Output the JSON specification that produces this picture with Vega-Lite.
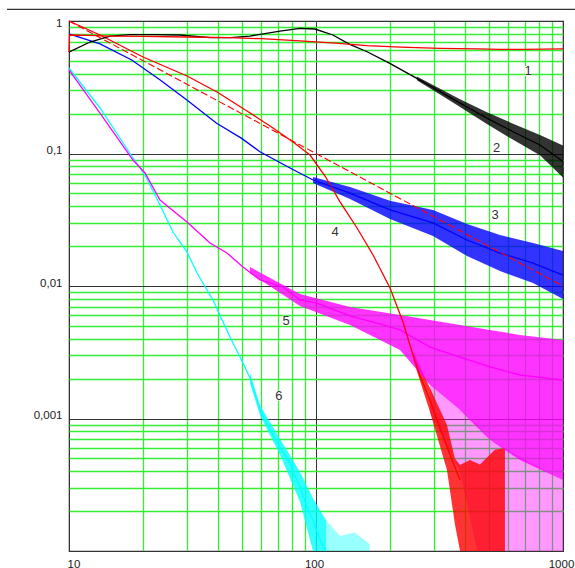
{
  "$schema": "https://vega.github.io/schema/vega-lite/v6.json",
  "width": 494,
  "height": 530,
  "autosize": {"type": "none"},
  "padding": {"left": 69, "top": 21, "right": 12, "bottom": 17},
  "background": "white",
  "config": {"view": {"stroke": "#333333", "strokeWidth": 1.2}},
  "datasets": {
    "lines": [
      {"s": "6", "x": 10, "y": 0.442}, {"s": "6", "x": 13.35, "y": 0.2205}, {"s": "6", "x": 18.16, "y": 0.0925}, {"s": "6", "x": 20.31, "y": 0.0688}, {"s": "6", "x": 23.36, "y": 0.0409}, {"s": "6", "x": 26.37, "y": 0.02556}, {"s": "6", "x": 30.04, "y": 0.01805}, {"s": "6", "x": 32.98, "y": 0.01253}, {"s": "6", "x": 36.21, "y": 0.00933}, {"s": "6", "x": 38.28, "y": 0.00784}, {"s": "6", "x": 44.85, "y": 0.00412}, {"s": "6", "x": 50.64, "y": 0.00262}, {"s": "6", "x": 54.05, "y": 0.00202}, {"s": "6", "x": 59.33, "y": 0.00116}, {"s": "6", "x": 65.13, "y": 0.000819}, {"s": "6", "x": 71.52, "y": 0.000609}, {"s": "6", "x": 78.48, "y": 0.000461}, {"s": "6", "x": 86.12, "y": 0.000304}, {"s": "6", "x": 91.96, "y": 0.000215}, {"s": "6", "x": 97.25, "y": 0.000171}, {"s": "6", "x": 103.8, "y": 0.000121}, {"s": "6", "x": 109.8, "y": 0.0001},
      {"s": "5", "x": 10, "y": 0.427}, {"s": "5", "x": 13.35, "y": 0.2021}, {"s": "5", "x": 18.16, "y": 0.0893}, {"s": "5", "x": 20.31, "y": 0.0713}, {"s": "5", "x": 23.36, "y": 0.0446}, {"s": "5", "x": 30.04, "y": 0.0304}, {"s": "5", "x": 37.23, "y": 0.0211}, {"s": "5", "x": 43.6, "y": 0.01774}, {"s": "5", "x": 50.64, "y": 0.0139}, {"s": "5", "x": 59.33, "y": 0.0111}, {"s": "5", "x": 73.54, "y": 0.00983}, {"s": "5", "x": 86.12, "y": 0.00784}, {"s": "5", "x": 100, "y": 0.00745}, {"s": "5", "x": 137.3, "y": 0.00594}, {"s": "5", "x": 186.8, "y": 0.00508}, {"s": "5", "x": 218.8, "y": 0.00466}, {"s": "5", "x": 289.4, "y": 0.00346}, {"s": "5", "x": 382.8, "y": 0.00291}, {"s": "5", "x": 506.4, "y": 0.00245}, {"s": "5", "x": 669.7, "y": 0.00213}, {"s": "5", "x": 1000, "y": 0.00195},
      {"s": "4", "x": 10, "y": 1}, {"s": "4", "x": 13.35, "y": 0.784}, {"s": "4", "x": 19.94, "y": 0.535}, {"s": "4", "x": 30.04, "y": 0.3846}, {"s": "4", "x": 39.74, "y": 0.2911}, {"s": "4", "x": 52.56, "y": 0.2093}, {"s": "4", "x": 66.97, "y": 0.1558}, {"s": "4", "x": 80.7, "y": 0.1221}, {"s": "4", "x": 94.56, "y": 0.0974}, {"s": "4", "x": 108.8, "y": 0.0676}, {"s": "4", "x": 125.1, "y": 0.0431}, {"s": "4", "x": 146.6, "y": 0.0274}, {"s": "4", "x": 170.2, "y": 0.01714}, {"s": "4", "x": 199.4, "y": 0.00966}, {"s": "4", "x": 225, "y": 0.00535}, {"s": "4", "x": 247, "y": 0.00301}, {"s": "4", "x": 263.7, "y": 0.00209}, {"s": "4", "x": 289.4, "y": 0.00138}, {"s": "4", "x": 309, "y": 0.000974}, {"s": "4", "x": 339.1, "y": 0.000609}, {"s": "4", "x": 382.8, "y": 0.000343},
      {"s": "3", "x": 10, "y": 0.8}, {"s": "3", "x": 13.35, "y": 0.671}, {"s": "3", "x": 17.94, "y": 0.508}, {"s": "3", "x": 23.4, "y": 0.359}, {"s": "3", "x": 30, "y": 0.2533}, {"s": "3", "x": 39.6, "y": 0.169}, {"s": "3", "x": 50, "y": 0.13}, {"s": "3", "x": 59.3, "y": 0.1031}, {"s": "3", "x": 78.5, "y": 0.0777}, {"s": "3", "x": 97.3, "y": 0.0631}, {"s": "3", "x": 137.3, "y": 0.0503}, {"s": "3", "x": 199.4, "y": 0.0375}, {"s": "3", "x": 297.7, "y": 0.0299}, {"s": "3", "x": 408.7, "y": 0.02224}, {"s": "3", "x": 555.9, "y": 0.01774}, {"s": "3", "x": 756, "y": 0.0149}, {"s": "3", "x": 1000, "y": 0.0121},
      {"s": "2", "x": 10, "y": 0.583}, {"s": "2", "x": 12.16, "y": 0.694}, {"s": "2", "x": 14.66, "y": 0.77}, {"s": "2", "x": 17.66, "y": 0.79}, {"s": "2", "x": 22, "y": 0.79}, {"s": "2", "x": 28.14, "y": 0.784}, {"s": "2", "x": 37.2, "y": 0.748}, {"s": "2", "x": 45, "y": 0.75}, {"s": "2", "x": 54, "y": 0.77}, {"s": "2", "x": 71.5, "y": 0.84}, {"s": "2", "x": 86.1, "y": 0.88}, {"s": "2", "x": 99, "y": 0.87}, {"s": "2", "x": 117, "y": 0.784}, {"s": "2", "x": 137, "y": 0.667}, {"s": "2", "x": 161, "y": 0.586}, {"s": "2", "x": 199, "y": 0.479}, {"s": "2", "x": 256, "y": 0.369}, {"s": "2", "x": 318, "y": 0.293}, {"s": "2", "x": 383, "y": 0.24}, {"s": "2", "x": 492, "y": 0.185}, {"s": "2", "x": 628, "y": 0.146}, {"s": "2", "x": 807, "y": 0.116}, {"s": "2", "x": 1000, "y": 0.087},
      {"s": "1", "x": 10, "y": 0.583}, {"s": "1", "x": 10.05, "y": 0.784}, {"s": "1", "x": 12, "y": 0.78}, {"s": "1", "x": 15, "y": 0.77}, {"s": "1", "x": 20, "y": 0.765}, {"s": "1", "x": 30, "y": 0.757}, {"s": "1", "x": 45, "y": 0.748}, {"s": "1", "x": 60, "y": 0.735}, {"s": "1", "x": 86, "y": 0.707}, {"s": "1", "x": 120, "y": 0.68}, {"s": "1", "x": 161, "y": 0.651}, {"s": "1", "x": 220, "y": 0.635}, {"s": "1", "x": 318, "y": 0.622}, {"s": "1", "x": 450, "y": 0.615}, {"s": "1", "x": 556, "y": 0.61}, {"s": "1", "x": 700, "y": 0.61}, {"s": "1", "x": 1000, "y": 0.615}
    ],
    "bands": [
      {"s": "6", "x": 54.05, "lo": 0.00185, "hi": 0.0022}, {"s": "6", "x": 59.33, "lo": 0.00106, "hi": 0.00126}, {"s": "6", "x": 71.52, "lo": 0.00053, "hi": 0.0007}, {"s": "6", "x": 86.12, "lo": 0.000235, "hi": 0.000395}, {"s": "6", "x": 97.25, "lo": 0.0001, "hi": 0.00025}, {"s": "6", "x": 110, "lo": 0.0001, "hi": 0.00017},
      {"s": "4", "x": 247, "lo": 0.00281, "hi": 0.00322}, {"s": "4", "x": 289.4, "lo": 0.00112, "hi": 0.0017}, {"s": "4", "x": 339, "lo": 0.000409, "hi": 0.000893}, {"s": "4", "x": 365, "lo": 0.00016, "hi": 0.0005}, {"s": "4", "x": 383, "lo": 0.0001, "hi": 0.000446}, {"s": "4", "x": 420, "lo": 0.0001, "hi": 0.000486}, {"s": "4", "x": 461, "lo": 0.0001, "hi": 0.00045}, {"s": "4", "x": 530, "lo": 0.0001, "hi": 0.00058}, {"s": "4", "x": 582, "lo": 0.0001, "hi": 0.0006},
      {"s": "5", "x": 54.05, "lo": 0.0125, "hi": 0.0139}, {"s": "5", "x": 86.12, "lo": 0.00706, "hi": 0.0087}, {"s": "5", "x": 137.3, "lo": 0.00508, "hi": 0.00695}, {"s": "5", "x": 218.8, "lo": 0.00329, "hi": 0.00604}, {"s": "5", "x": 289.4, "lo": 0.00179, "hi": 0.00554}, {"s": "5", "x": 382.8, "lo": 0.00116, "hi": 0.00508}, {"s": "5", "x": 506.4, "lo": 0.000688, "hi": 0.00466}, {"s": "5", "x": 669.7, "lo": 0.000486, "hi": 0.00427}, {"s": "5", "x": 1000, "lo": 0.000343, "hi": 0.00391},
      {"s": "3", "x": 97.3, "lo": 0.0599, "hi": 0.0665}, {"s": "3", "x": 137.3, "lo": 0.0453, "hi": 0.0558}, {"s": "3", "x": 199.4, "lo": 0.0321, "hi": 0.0439}, {"s": "3", "x": 297.7, "lo": 0.0238, "hi": 0.0375}, {"s": "3", "x": 408.7, "lo": 0.01685, "hi": 0.0294}, {"s": "3", "x": 555.9, "lo": 0.01298, "hi": 0.02425}, {"s": "3", "x": 756, "lo": 0.01053, "hi": 0.0211}, {"s": "3", "x": 1000, "lo": 0.00797, "hi": 0.01837},
      {"s": "2", "x": 256, "lo": 0.357, "hi": 0.382}, {"s": "2", "x": 318, "lo": 0.279, "hi": 0.308}, {"s": "2", "x": 383, "lo": 0.224, "hi": 0.257}, {"s": "2", "x": 492, "lo": 0.167, "hi": 0.205}, {"s": "2", "x": 628, "lo": 0.127, "hi": 0.168}, {"s": "2", "x": 807, "lo": 0.097, "hi": 0.138}, {"s": "2", "x": 1000, "lo": 0.066, "hi": 0.115}
    ],
    "spikes": [
      {"s": "6", "x": 110, "lo": 0.0001, "hi": 0.00017}, {"s": "6", "x": 125, "lo": 0.0001, "hi": 0.00013}, {"s": "6", "x": 143, "lo": 0.0001, "hi": 0.000138}, {"s": "6", "x": 165, "lo": 0.0001, "hi": 0.000113},
      {"s": "5", "x": 289.4, "lo": 0.0011, "hi": 0.00179}, {"s": "5", "x": 382.8, "lo": 0.0004, "hi": 0.00116}, {"s": "5", "x": 450, "lo": 0.0001, "hi": 0.0009}, {"s": "5", "x": 506.4, "lo": 0.0001, "hi": 0.000688}, {"s": "5", "x": 1000, "lo": 0.0001, "hi": 0.000343}
    ],
    "fit": [{"x": 10, "y": 1}, {"x": 1000, "y": 0.01}],
    "labels": [
      {"t": "1", "x": 721.5, "y": 0.4195}, {"t": "2", "x": 539, "y": 0.1106}, {"t": "3", "x": 530.6, "y": 0.0343},
      {"t": "4", "x": 119.4, "y": 0.0257}, {"t": "5", "x": 75.6, "y": 0.00547}, {"t": "6", "x": 70.8, "y": 0.001486}
    ]
  },
  "layer": [
    {
      "data": {"name": "spikes"},
      "mark": {"type": "area", "opacity": 0.4},
      "encoding": {
        "x": {"field": "x", "type": "quantitative",
          "scale": {"type": "log", "domain": [10, 1000], "nice": false},
          "axis": {
            "title": null,
            "values": [20, 30, 40, 50, 60, 70, 80, 90, 200, 300, 400, 500, 600, 700, 800, 900, 10, 100, 1000],
            "labelExpr": "datum.value == 10 ? '10' : datum.value == 100 ? '100' : datum.value == 1000 ? '1000' : ''",
            "ticks": false, "domain": false, "labelPadding": 7, "labelFont": "Liberation Sans", "labelFontSize": 11.5, "labelColor": "#222222",
            "labelOverlap": false, "labelFlush": false, "labelBound": false, "labelOffset": -2,
            "labelAlign": {"condition": {"test": "datum.value == 10", "value": "left"}, "value": "center"},
            "grid": true,
            "gridColor": {"condition": {"test": "datum.value == 10 || datum.value == 100 || datum.value == 1000", "value": "#333333"}, "value": "#33ee33"},
            "gridWidth": {"condition": {"test": "datum.value == 10 || datum.value == 100 || datum.value == 1000", "value": 1}, "value": 1.3}
          }
        },
        "y": {"field": "lo", "type": "quantitative",
          "scale": {"type": "log", "domain": [0.0001, 1], "nice": false},
          "axis": {
            "title": null,
            "values": [0.0002, 0.0003, 0.0004, 0.0005, 0.0006, 0.0007, 0.0008, 0.0009, 0.002, 0.003, 0.004, 0.005, 0.006, 0.007, 0.008, 0.009, 0.02, 0.03, 0.04, 0.05, 0.06, 0.07, 0.08, 0.09, 0.2, 0.3, 0.4, 0.5, 0.6, 0.7, 0.8, 0.9, 0.0001, 0.001, 0.01, 0.1, 1],
            "labelExpr": "datum.value == 1 ? '1' : datum.value == 0.1 ? '0,1' : datum.value == 0.01 ? '0,01' : datum.value == 0.001 ? '0,001' : ''",
            "ticks": false, "domain": false, "labelPadding": 7, "labelFont": "Liberation Sans", "labelFontSize": 11.5, "labelColor": "#222222",
            "labelOverlap": false, "labelFlush": false, "labelBound": false,
            "labelOffset": {"condition": {"test": "datum.value == 1", "value": 2}, "value": -3},
            "grid": true,
            "gridColor": {"condition": {"test": "datum.value == 1 || datum.value == 0.1 || datum.value == 0.01 || datum.value == 0.001 || datum.value == 0.0001", "value": "#333333"}, "value": "#33ee33"},
            "gridWidth": {"condition": {"test": "datum.value == 1 || datum.value == 0.1 || datum.value == 0.01 || datum.value == 0.001 || datum.value == 0.0001", "value": 1}, "value": 1.3}
          }
        },
        "y2": {"field": "hi"},
        "color": {"field": "s", "type": "nominal", "legend": null,
          "scale": {"domain": ["1", "2", "3", "4", "5", "6"], "range": ["#ff0000", "#000000", "#0000ff", "#ff0000", "#ff00ff", "#00ffff"]}}
      }
    },
    {
      "data": {"name": "bands"},
      "mark": {"type": "area", "opacity": 0.8},
      "encoding": {
        "x": {"field": "x", "type": "quantitative", "scale": {"type": "log", "domain": [10, 1000], "nice": false}},
        "y": {"field": "lo", "type": "quantitative", "scale": {"type": "log", "domain": [0.0001, 1], "nice": false}},
        "y2": {"field": "hi"},
        "color": {"field": "s", "type": "nominal", "legend": null}
      }
    },
    {
      "data": {"name": "lines"},
      "mark": {"type": "line", "strokeWidth": 1.3},
      "encoding": {
        "x": {"field": "x", "type": "quantitative", "scale": {"type": "log", "domain": [10, 1000], "nice": false}},
        "y": {"field": "y", "type": "quantitative", "scale": {"type": "log", "domain": [0.0001, 1], "nice": false}},
        "color": {"field": "s", "type": "nominal", "legend": null},
        "order": {"field": "x", "type": "quantitative"}
      }
    },
    {
      "data": {"name": "fit"},
      "mark": {"type": "line", "color": "#ff0000", "strokeWidth": 1.1, "strokeDash": [7, 3]},
      "encoding": {
        "x": {"field": "x", "type": "quantitative", "scale": {"type": "log", "domain": [10, 1000], "nice": false}},
        "y": {"field": "y", "type": "quantitative", "scale": {"type": "log", "domain": [0.0001, 1], "nice": false}}
      }
    },
    {
      "data": {"name": "labels"},
      "mark": {"type": "point", "shape": "M-0.3,-0.5L0.3,-0.5L0.3,0.5L-0.3,0.5Z", "size": 400, "filled": true, "color": "white", "opacity": 1, "strokeWidth": 0},
      "encoding": {
        "x": {"field": "x", "type": "quantitative", "scale": {"type": "log", "domain": [10, 1000], "nice": false}},
        "y": {"field": "y", "type": "quantitative", "scale": {"type": "log", "domain": [0.0001, 1], "nice": false}}
      }
    },
    {
      "data": {"name": "labels"},
      "mark": {"type": "text", "font": "Liberation Sans", "fontSize": 13, "color": "#333333", "align": "center", "baseline": "middle"},
      "encoding": {
        "x": {"field": "x", "type": "quantitative", "scale": {"type": "log", "domain": [10, 1000], "nice": false}},
        "y": {"field": "y", "type": "quantitative", "scale": {"type": "log", "domain": [0.0001, 1], "nice": false}},
        "text": {"field": "t"}
      }
    },
    {
      "data": {"values": [{}]},
      "mark": {"type": "rule", "color": "#333333", "strokeWidth": 1.3},
      "encoding": {
        "x": {"datum": 5.61, "type": "quantitative", "scale": {"type": "log", "domain": [10, 1000], "nice": false}},
        "x2": {"datum": 1118},
        "y": {"datum": 1.2255, "type": "quantitative", "scale": {"type": "log", "domain": [0.0001, 1], "nice": false}}
      }
    }
  ]
}
